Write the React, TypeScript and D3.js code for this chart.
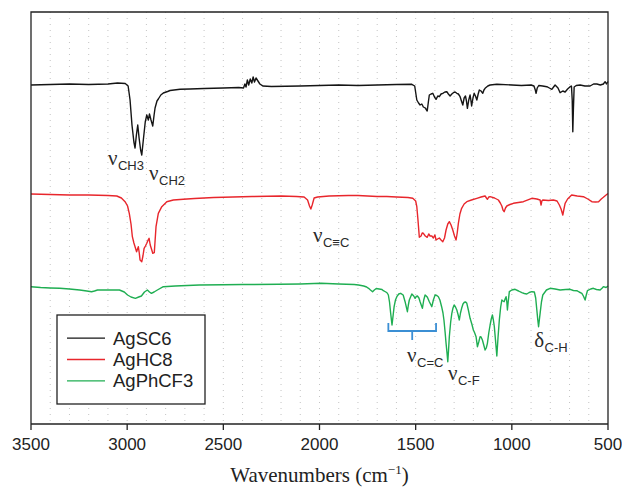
import React from 'react';
import * as d3 from 'd3';

// ---------- DATA ----------
const xTicks = [3500, 3000, 2500, 2000, 1500, 1000, 500];
const gridStep = 100;
const seriesNames = ['AgSC6', 'AgHC8', 'AgPhCF3'];
const seriesColors = ['#151515', '#e8262c', '#1fae52'];

// [wavenumber (cm^-1), transmittance (a.u., offset)]
const agSC6: [number, number][] = [
  [3500,339],[3400,339.5],[3300,340],[3200,339.5],[3100,340],[3050,341],[3010,340.5],[2995,338],[2985,324],[2975,299],[2965,282],[2959,276],[2952,289],[2945,299],[2938,286],[2930,274],[2924,269],[2916,284],[2906,302],[2898,309],[2890,304],[2884,310],[2876,304],[2867,298],[2860,309],[2855,316],[2845,323],[2838,325],[2825,329],[2812,331],[2790,332.5],[2777,333.5],[2725,334.7],[2673,335],[2600,335.5],[2500,336],[2420,336.5],[2395,336],[2388,340],[2382,337],[2375,344],[2368,339],[2360,345],[2352,341],[2345,347],[2338,342],[2330,346],[2320,343],[2310,340],[2295,338],[2250,337.5],[2100,338],[2000,338.5],[1900,339],[1800,338.5],[1700,339],[1600,339.5],[1520,339.7],[1505,338],[1494,324],[1485,321],[1477,319],[1468,320],[1460,317],[1450,316],[1440,313],[1434,322],[1429,329],[1420,330],[1411,330.7],[1402,327],[1394,324.7],[1385,328],[1377,327.3],[1368,330],[1359,330.7],[1348,332],[1338,332.3],[1330,330],[1321,328],[1312,330],[1304,331.3],[1295,332],[1286,330.7],[1278,330],[1269,327.3],[1262,323],[1255,319],[1248,326],[1241,328],[1236,323],[1231,315.7],[1224,324],[1217,329],[1213,324],[1209,318],[1202,326],[1196,330.7],[1189,328],[1182,324],[1175,330],[1169,334],[1160,333],[1151,330.7],[1145,334],[1139,335.7],[1125,338],[1113,339],[1078,339.7],[1000,339],[950,338.5],[900,339],[885,338],[878,334],[874,330.7],[868,336],[860,338.5],[840,338],[818,337.3],[805,336],[792,334.7],[783,337],[775,339],[760,336],[749,331.3],[735,333],[723,332],[710,335],[697,337.3],[690,338],[686,324],[683,292.3],[680,314],[676,337],[665,338.5],[645,339],[620,338],[593,338],[575,340],[558,340],[540,339],[524,340],[515,342.3],[508,340],[500,342.5]
];

const agHC8: [number, number][] = [
  [3500,230],[3400,229.5],[3300,229],[3200,229],[3100,228.5],[3054,228],[3030,226],[3011,222.3],[2998,218],[2989,210.7],[2980,200],[2973,187.3],[2965,181],[2959,177.3],[2951,172.3],[2942,177.3],[2937,171],[2933,164],[2924,162.3],[2918,168],[2912,175.7],[2905,178],[2898,180.7],[2891,184],[2886,185.7],[2880,179],[2872,174],[2867,170.7],[2859,171.3],[2850,197.3],[2838,210.7],[2820,217.3],[2794,222.3],[2760,224],[2708,224.7],[2650,225.5],[2550,226.5],[2450,227],[2350,227.5],[2200,228],[2120,227.5],[2080,227],[2062,224],[2052,218],[2045,215],[2038,219],[2028,226],[2010,227],[1950,228],[1850,228.5],[1800,228.5],[1750,228],[1700,227.5],[1650,227.5],[1600,227],[1540,226.5],[1515,225.7],[1500,223],[1494,217.3],[1488,204],[1481,186.7],[1472,188],[1466,191],[1460,190.7],[1450,188],[1440,186.7],[1432,190],[1425,188],[1416,188],[1408,186],[1400,189],[1394,184],[1386,185],[1377,186],[1368,184],[1359,182.3],[1350,186],[1342,194],[1333,200],[1325,202.3],[1316,199],[1307,194],[1298,188],[1290,184],[1284,191],[1278,200.7],[1270,210],[1261,215.7],[1248,220],[1234,222.3],[1210,224],[1182,225.7],[1160,227],[1139,228],[1132,226],[1127,224.7],[1120,227],[1113,227.3],[1090,226],[1070,224],[1060,221],[1052,218],[1046,214],[1040,212.3],[1033,216],[1026,218],[1010,219.5],[992,220.7],[940,222.3],[896,225.7],[870,225],[853,224],[848,219],[844,223],[839,224],[810,223.5],[784,224],[765,223],[753,219],[744,215],[735,209],[729,215],[723,220.7],[710,225],[689,229],[660,228],[628,227.3],[605,225],[584,222.3],[565,222],[549,222.3],[535,225],[524,226.7],[510,229],[500,230.5]
];

const agPhCF3: [number, number][] = [
  [3500,137.3],[3450,136.5],[3400,136],[3350,135.7],[3300,135],[3247,134],[3210,133],[3185,132.3],[3170,133],[3154,134],[3100,134],[3040,134],[3015,132],[2998,129],[2980,127],[2957,125.7],[2940,127],[2926,128],[2910,132],[2895,134],[2884,132],[2874,130.7],[2860,132],[2843,134],[2812,137.3],[2750,138],[2625,139],[2500,139.2],[2400,139.5],[2211,139.7],[2100,140],[1992,140.7],[1900,140],[1820,139.5],[1797,139],[1770,138],[1755,137],[1745,135.7],[1735,134],[1724,132.3],[1715,134],[1705,135.5],[1690,135],[1675,134.5],[1668,133.3],[1655,132],[1648,131],[1642,129],[1636,122],[1630,110.7],[1623,99],[1617,109],[1612,117.3],[1605,124],[1598,127.3],[1588,130],[1578,130.7],[1565,129],[1555,122.3],[1543,112.3],[1538,119],[1533,124],[1520,130],[1510,128],[1503,125.7],[1497,127.5],[1491,128],[1483,126],[1477,122.3],[1465,115.7],[1458,124],[1451,129],[1445,128],[1439,126.7],[1429,122.3],[1416,117.3],[1408,124],[1399,129],[1390,128.5],[1382,127.3],[1374,124],[1365,117.3],[1358,111],[1353,104],[1347,92],[1342,80.7],[1337,71],[1333,62.3],[1329,74],[1325,87.3],[1318,102],[1312,110.7],[1306,116],[1300,119],[1293,117],[1286,114],[1279,109],[1273,104],[1267,111],[1261,115.7],[1254,120],[1247,121.7],[1240,122],[1234,120.7],[1226,114],[1217,105.7],[1208,100],[1200,94],[1193,91],[1186,87.3],[1179,77.3],[1172,82],[1165,87.3],[1160,87],[1153,84],[1146,79],[1139,74],[1133,76],[1127,80.7],[1120,91],[1113,99],[1107,105],[1101,109],[1096,104],[1091,97.3],[1085,84],[1078,68],[1072,86],[1065,104],[1058,117],[1052,124],[1046,123],[1040,122.3],[1035,125],[1030,127.3],[1026,122],[1023,114],[1019,122],[1013,132.3],[1000,134],[983,134.7],[965,133],[948,131.3],[935,130.5],[922,130],[910,131.5],[896,132.3],[883,132],[876,126],[870,114],[865,104],[861,97.3],[857,104],[853,110.7],[846,122],[839,129],[820,134],[801,135.7],[775,135],[749,134],[720,134.5],[697,134.7],[680,133.5],[662,133.3],[650,132],[636,130.7],[628,128],[619,124],[613,129],[607,133.3],[590,135],[576,135.7],[560,134.5],[541,134],[530,136],[524,137.3],[510,136.5],[500,138]
];

const seriesData = [agSC6, agHC8, agPhCF3];

// band annotations: symbol, subscript, anchor wavenumber, anchor level (a.u.)
const bandSymbols = ['ν', 'ν', 'ν', 'ν', 'ν', 'δ'];
const bandSubs = ['CH3', 'CH2', 'C≡C', 'C=C', 'C-F', 'C-H'];
const bandWn = [3100, 2886, 2034, 1545, 1332, 884];
const bandLevel = [259, 244, 182, 62, 44, 77];

// bracket under aromatic C=C bands: [start, end] wavenumber
const bracketWn = [1642, 1394];

// ---------- CHART ----------
const W = 622, H = 489;
const left = 31, right = 608, top = 12, bottom = 424;

export default function App() {
  const x = d3.scaleLinear().domain([3500, 500]).range([left, right]);
  const y = d3.scaleLinear().domain([0, 412]).range([bottom, top]);
  const line = d3.line<[number, number]>().x(d => x(d[0])).y(d => y(d[1]));
  const grid = d3.range(3500 - gridStep, 500, -gridStep);

  const bx0 = x(bracketWn[0]), bx1 = x(bracketWn[1]);
  const bmid = (bx0 + bx1) / 2;
  const bTop = y(101), bBar = y(93), bTick = y(84);

  const legX = 57, legY = 315, legW = 148, legH = 89;
  const rowY = [legY + 0.26 * legH, legY + 0.5 * legH, legY + 0.74 * legH];

  return (
    <svg width={W} height={H} style={{ position: 'absolute', left: 0, top: 0 }}>
      <rect x={0} y={0} width={W} height={H} fill="#fff" />
      {grid.map(g => (
        <line key={g} x1={x(g)} x2={x(g)} y1={top} y2={bottom}
          stroke="#c4c4c4" strokeWidth={1} strokeDasharray="1 5" />
      ))}
      {seriesData.map((s, i) => (
        <path key={i} d={line(s) || ''} fill="none" stroke={seriesColors[i]}
          strokeWidth={1.4} strokeLinejoin="round" />
      ))}
      {/* frame */}
      <path d={`M${left},${bottom}V${top}H${right}V${bottom}`} fill="none" stroke="#222" strokeWidth={1.3} />
      <line x1={left} x2={right} y1={bottom} y2={bottom} stroke="#222" strokeWidth={1.3} />
      {xTicks.map(t => (
        <g key={t}>
          <line x1={x(t)} x2={x(t)} y1={bottom} y2={bottom + 6} stroke="#222" strokeWidth={1.3} />
          <text x={x(t)} y={bottom + 26} textAnchor="middle"
            fontFamily="'Liberation Sans', Arial, sans-serif" fontSize={17} fill="#222">{t}</text>
        </g>
      ))}
      <text x={(left + right) / 2} y={482} textAnchor="middle"
        fontFamily="'Liberation Serif', 'Times New Roman', serif" fontSize={21} fill="#222">
        Wavenumbers (cm<tspan dy={-8} fontSize={13}>−1</tspan><tspan dy={8}>)</tspan>
      </text>

      {/* band labels */}
      {bandSubs.map((sub, i) => (
        <text key={i} x={x(bandWn[i])} y={y(bandLevel[i])} fill="#2a2a2a">
          <tspan fontFamily="'Liberation Serif', 'Times New Roman', serif" fontSize={21}>{bandSymbols[i]}</tspan>
          <tspan dy={5} dx={0.5} fontFamily="'Liberation Sans', Arial, sans-serif" fontSize={13}>{sub}</tspan>
        </text>
      ))}

      {/* bracket */}
      <path d={`M${bx0},${bTop}V${bBar}H${bx1}V${bTop}M${bmid},${bBar}V${bTick}`}
        fill="none" stroke="#3b8fd4" strokeWidth={1.8} />

      {/* legend */}
      <rect x={legX} y={legY} width={legW} height={legH} fill="#fff" stroke="#222" strokeWidth={1.3} />
      {seriesNames.map((n, i) => (
        <g key={n}>
          <line x1={legX + 10} x2={legX + 48} y1={rowY[i]} y2={rowY[i]} stroke={seriesColors[i]} strokeWidth={1.4} />
          <text x={legX + 56} y={rowY[i] + 6.5} fontFamily="'Liberation Sans', Arial, sans-serif"
            fontSize={18.5} fill="#222">{n}</text>
        </g>
      ))}
    </svg>
  );
}
